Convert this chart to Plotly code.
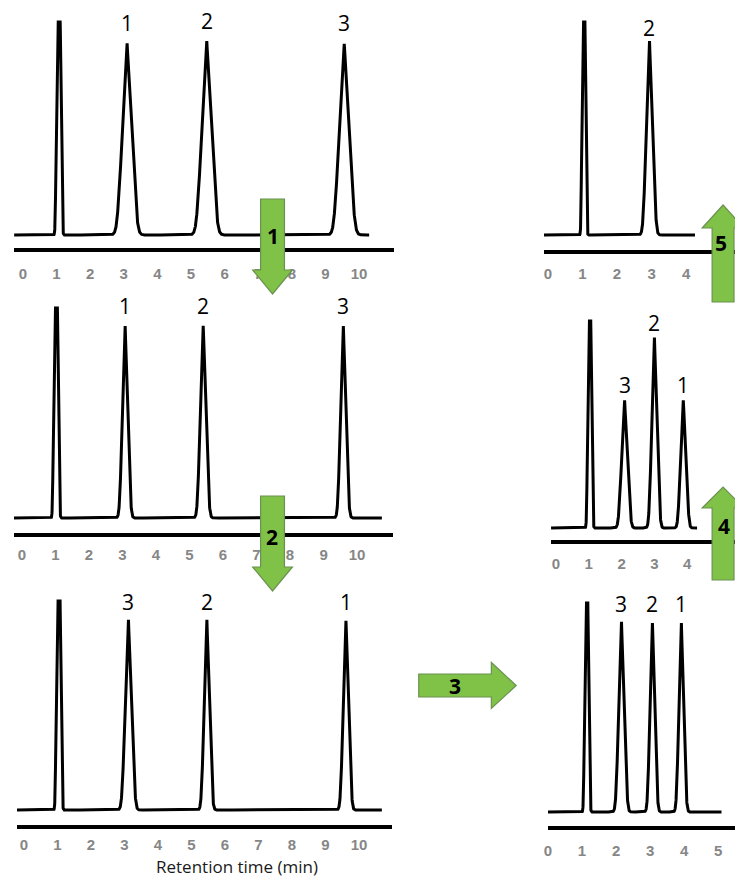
import numpy as np
import plotly.graph_objects as go

W, H = 735, 882

# ---------------- data ----------------
# retention time (min), peak height (solvent front = 100), base half-width (min),
# flat-top half-width (min), peak label
A_times   = [1.07, 3.10, 5.47, 9.56]
A_heights = [100, 90, 91, 90]
A_widths  = [0.11, 0.30, 0.31, 0.31]
A_tops    = [0.04, 0.0, 0.0, 0.0]
A_labels  = ["", "1", "2", "3"]
A_span    = [-0.26, 10.30]

B_times   = [1.02, 3.08, 5.41, 9.59]
B_heights = [100, 92, 92, 92]
B_widths  = [0.11, 0.17, 0.18, 0.17]
B_tops    = [0.04, 0.0, 0.0, 0.0]
B_labels  = ["", "1", "2", "3"]
B_span    = [-0.24, 10.74]

C_times   = [1.04, 3.12, 5.46, 9.61]
C_heights = [100, 91, 91, 91]
C_widths  = [0.11, 0.20, 0.17, 0.17]
C_tops    = [0.04, 0.0, 0.0, 0.0]
C_labels  = ["", "3", "2", "1"]
C_span    = [-0.21, 10.68]

D_times   = [1.04, 2.94]
D_heights = [100, 91.5]
D_widths  = [0.09, 0.19]
D_tops    = [0.03, 0.0]
D_labels  = ["", "2"]
D_span    = [-0.14, 4.26]

E_times   = [1.03, 2.09, 3.00, 3.88]
E_heights = [100, 62, 92, 62]
E_widths  = [0.10, 0.19, 0.17, 0.17]
E_tops    = [0.03, 0.0, 0.0, 0.0]
E_labels  = ["", "3", "2", "1"]
E_span    = [-0.15, 4.30]

F_times   = [1.14, 2.16, 3.07, 3.92]
F_heights = [100, 91, 91, 91]
F_widths  = [0.10, 0.17, 0.15, 0.15]
F_tops    = [0.03, 0.0, 0.0, 0.0]
F_labels  = ["", "3", "2", "1"]
F_span    = [0.0, 5.10]

LEFT_TICKS  = [0, 1, 2, 3, 4, 5, 6, 7, 8, 9, 10]
D_TICKS     = [0, 1, 2, 3, 4]
E_TICKS     = [0, 1, 2, 3, 4]
F_TICKS     = [0, 1, 2, 3, 4, 5]

X_TITLE = "Retention time (min)"
STEP_LABELS = ["1", "2", "3", "4", "5"]

PANELS = {
    "A": (A_times, A_heights, A_widths, A_tops, A_labels, A_span, LEFT_TICKS),
    "B": (B_times, B_heights, B_widths, B_tops, B_labels, B_span, LEFT_TICKS),
    "C": (C_times, C_heights, C_widths, C_tops, C_labels, C_span, LEFT_TICKS),
    "D": (D_times, D_heights, D_widths, D_tops, D_labels, D_span, D_TICKS),
    "E": (E_times, E_heights, E_widths, E_tops, E_labels, E_span, E_TICKS),
    "F": (F_times, F_heights, F_widths, F_tops, F_labels, F_span, F_TICKS),
}

# ---------------- layout (pixel positions in the 735x882 page) ----------------
# x0,x1: axis line extent; t0: pixel of tick 0; ppm: pixels per minute;
# a: axis line y; b: trace baseline y; s: solvent peak top y; gap: label gap;
# tl: spacing between axis line and tick labels
LAYOUT = {
    "A": dict(x0=10,  x1=392, t0=19,  ppm=33.8, a=250, b=235, s=22,  gap=11, tl=9),
    "B": dict(x0=10,  x1=391, t0=18,  ppm=33.7, a=535, b=518, s=308, gap=10, tl=5),
    "C": dict(x0=13,  x1=390, t0=20,  ppm=33.7, a=827, b=810, s=601, gap=9,  tl=3),
    "D": dict(x0=543, x1=735, t0=547, ppm=34.7, a=252, b=235, s=22,  gap=3,  tl=7),
    "E": dict(x0=550, x1=735, t0=555, ppm=33.0, a=542, b=528, s=321, gap=6,  tl=7),
    "F": dict(x0=547, x1=735, t0=547, ppm=34.2, a=828, b=812, s=603, gap=9,  tl=8),
}

GREEN = "#7fc247"
GREEN_EDGE = "#6b9152"
TICK_COLOR = "#868686"
LABEL_FONT = "Open Sans"


def px_x(x):
    return x / W


def px_y(y):
    return 1 - y / H


def chromatogram(t, times, heights, widths, tops):
    y = np.zeros_like(t)
    for t0, h, w, wt in zip(times, heights, widths, tops):
        sig = 0.12 * (w - wt)
        d = w - np.abs(t - t0)
        sp = sig * np.logaddexp(0.0, d / sig)
        y += h * np.minimum(1.0, sp / (w - wt))
    return y


fig = go.Figure()
annotations = []

for i, (key, (times, heights, widths, tops, labels, span, ticks)) in enumerate(PANELS.items(), start=1):
    L = LAYOUT[key]
    xa = "x" if i == 1 else f"x{i}"
    ya = "y" if i == 1 else f"y{i}"
    t = np.arange(span[0], span[1] + 1e-9, 0.003)
    y = chromatogram(t, times, heights, widths, tops)
    fig.add_trace(go.Scatter(
        x=t, y=y, mode="lines", line=dict(color="black", width=3),
        xaxis=xa, yaxis=ya, hoverinfo="skip", showlegend=False))

    k = (L["b"] - L["s"]) / 100.0
    top_px = L["s"] - 14
    bottom_px = L["a"] - 2
    xrng = [(L["x0"] - L["t0"]) / L["ppm"], (L["x1"] - L["t0"]) / L["ppm"]]
    yrng = [-(bottom_px - L["b"]) / k, (L["b"] - top_px) / k]

    xname = "xaxis" if i == 1 else f"xaxis{i}"
    yname = "yaxis" if i == 1 else f"yaxis{i}"
    fig.update_layout(**{
        xname: dict(
            domain=[px_x(L["x0"]), px_x(L["x1"])], anchor=ya, range=xrng,
            tickvals=ticks, ticktext=[str(v) for v in ticks],
            showline=True, linecolor="black", linewidth=4,
            showgrid=False, zeroline=False, ticks="outside", ticklen=L["tl"],
            tickcolor="rgba(0,0,0,0)",
            tickfont=dict(family="Liberation Sans", size=15, color=TICK_COLOR, weight="bold"),
            fixedrange=True),
        yname: dict(
            domain=[px_y(bottom_px), px_y(top_px)], anchor=xa, range=yrng,
            visible=False, fixedrange=True),
    })

    for tt, hh, lab in zip(times, heights, labels):
        if lab:
            annotations.append(dict(
                x=tt, y=hh, xref=xa, yref=ya, text=lab, showarrow=False,
                yanchor="bottom", xanchor="center", yshift=L["gap"] - 7,
                font=dict(family=LABEL_FONT, size=21, color="black")))

# axis title under bottom-left panel
annotations.append(dict(
    x=px_x(234), y=px_y(866), xref="paper", yref="paper", text=X_TITLE,
    showarrow=False, xanchor="center", yanchor="middle",
    font=dict(family=LABEL_FONT, size=17, color="#1a1a1a")))

# ---------------- workflow arrows ----------------
def vertical_arrow(cx, base, shoulder, tip, bh, hh):
    pts = [(cx - bh, base), (cx + bh, base), (cx + bh, shoulder), (cx + hh, shoulder),
           (cx, tip), (cx - hh, shoulder), (cx - bh, shoulder)]
    return "M " + " L ".join(f"{px_x(x):.5f},{px_y(y):.5f}" for x, y in pts) + " Z"


def horizontal_arrow(cy, base, shoulder, tip, bh, hh):
    pts = [(base, cy - bh), (shoulder, cy - bh), (shoulder, cy - hh), (tip, cy),
           (shoulder, cy + hh), (shoulder, cy + bh), (base, cy + bh)]
    return "M " + " L ".join(f"{px_x(x):.5f},{px_y(y):.5f}" for x, y in pts) + " Z"


ARROWS = [
    ("v", dict(cx=270, base=199, shoulder=270, tip=294, bh=12, hh=20), (270, 236)),
    ("v", dict(cx=270, base=496, shoulder=567, tip=591, bh=12, hh=20), (269, 537)),
    ("h", dict(cy=685.5, base=417, shoulder=490, tip=515, bh=11.5, hh=23), (453, 686)),
    ("v", dict(cx=723, base=580, shoulder=508, tip=487, bh=11, hh=21), (724, 526)),
    ("v", dict(cx=723, base=302, shoulder=228, tip=205, bh=11, hh=21), (721, 243)),
]

shapes = []
for (kind, g, (lx, ly)), lab in zip(ARROWS, STEP_LABELS):
    path = vertical_arrow(**g) if kind == "v" else horizontal_arrow(**g)
    shapes.append(dict(type="path", path=path, xref="paper", yref="paper",
                       fillcolor=GREEN, line=dict(color=GREEN_EDGE, width=1.2),
                       layer="above"))
    annotations.append(dict(
        x=px_x(lx), y=px_y(ly), xref="paper", yref="paper", text=f"<b>{lab}</b>",
        showarrow=False, xanchor="center", yanchor="middle",
        font=dict(family=LABEL_FONT, size=21, color="black")))

fig.update_layout(
    width=W, height=H, autosize=False,
    margin=dict(l=0, r=0, t=0, b=0),
    paper_bgcolor="white", plot_bgcolor="white",
    showlegend=False, shapes=shapes, annotations=annotations,
)

fig.write_html(
    "out.html",
    config={"displayModeBar": False},
    post_script="document.body.style.margin='0';document.body.style.padding='0';"
                "document.body.style.overflow='hidden';",
)
